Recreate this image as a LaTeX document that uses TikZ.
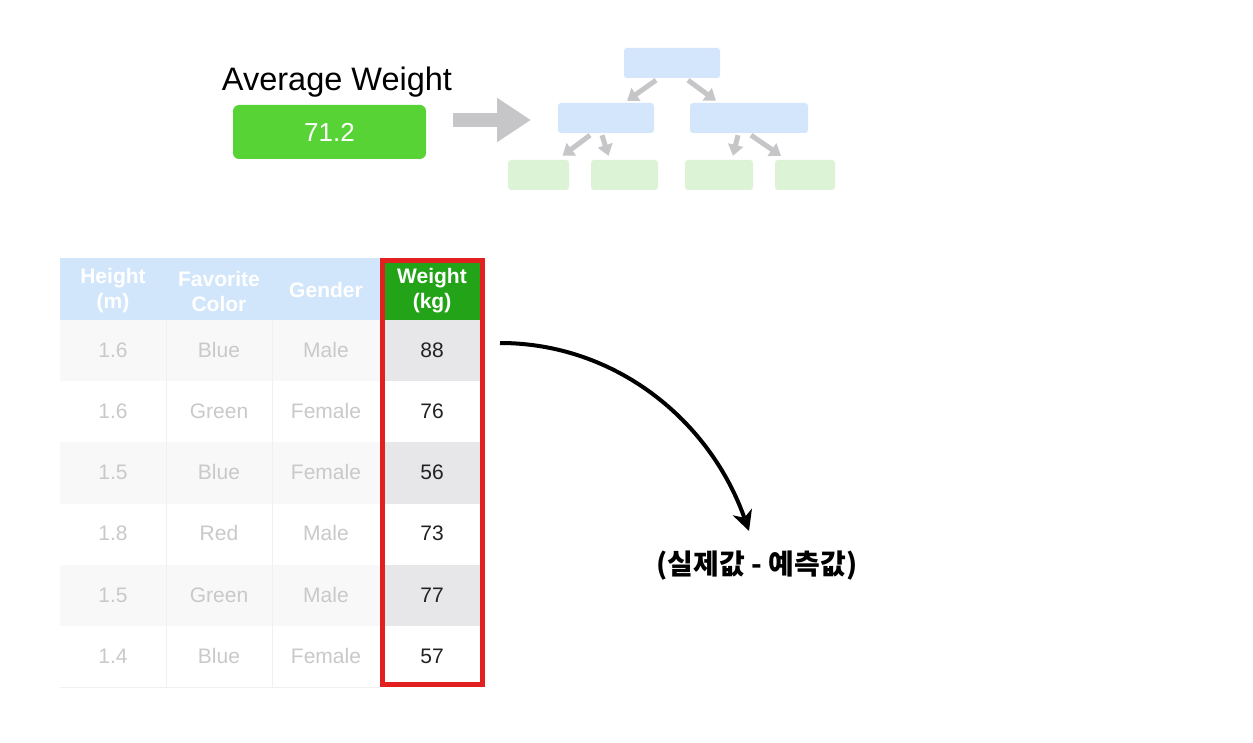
\documentclass[tikz,border=0pt]{standalone}
\usepackage{fontspec}
\setmainfont{Liberation Sans}
\newfontfamily\kofont{Noto Sans CJK KR}
\usetikzlibrary{arrows.meta,calc}
\definecolor{avggreen}{HTML}{57D336}
\definecolor{bluebox}{HTML}{D3E6FB}
\definecolor{greenbox}{HTML}{DDF3D6}
\definecolor{arrgray}{HTML}{C6C6C8}
\definecolor{hdrblue}{HTML}{D2E6FB}
\definecolor{hdrgreen}{HTML}{23A318}
\definecolor{rowgray}{HTML}{F8F8F8}
\definecolor{wtgray}{HTML}{E7E6E9}
\definecolor{faint}{HTML}{C9C9C9}
\definecolor{gridc}{HTML}{F0F0F0}
\definecolor{redbox}{HTML}{E32020}
\definecolor{darktxt}{HTML}{222222}
\tikzset{
  bluenode/.style={fill=bluebox, rounded corners=3pt, minimum height=30pt, inner sep=0pt},
  greennode/.style={fill=greenbox, rounded corners=3pt, minimum height=30pt, inner sep=0pt},
  treearrow/.style={draw=arrgray, line width=5pt, -{Triangle[length=11pt,width=15pt]}},
  cellfaint/.style={text=faint, font=\fontsize{21}{24}\selectfont},
  cellwt/.style={text=darktxt, font=\fontsize{21}{24}\selectfont},
  hdr/.style={text=white, font=\bfseries\fontsize{21}{25}\selectfont, align=center},
  curvearrow/.style={draw=black, line width=4pt, -{Stealth[length=20pt,width=20pt,inset=6pt]}}
}
\begin{document}
\begin{tikzpicture}[x=1pt,y=-1pt]
\useasboundingbox (0,0) rectangle (1253,743);
\fill[white] (0,0) rectangle (1253,743);
% Average weight
\node[font=\fontsize{32.5}{36}\selectfont] (avgt) at (337,82) {Average Weight};
\node[fill=avggreen, rounded corners=6pt, minimum width=193pt, minimum height=54pt, inner sep=0pt,
      text=white, font=\fontsize{26}{28}\selectfont] (avg) at (329.5,132) {71.2};
% big arrow
\coordinate (ba1) at (453,120);
\coordinate (ba2) at (531,120);
\draw[draw=arrgray, line width=14pt, -{Triangle[length=34pt,width=42pt]}] (ba1) -- (ba2);
% tree
\node[bluenode, minimum width=96pt] (top) at (672,63) {};
\node[bluenode, minimum width=96pt] (ml) at (606,118) {};
\node[bluenode, minimum width=118pt] (mr) at (749,118) {};
\node[greennode, minimum width=61pt] (b1) at (538.5,175) {};
\node[greennode, minimum width=67pt] (b2) at (624.5,175) {};
\node[greennode, minimum width=68pt] (b3) at (719,175) {};
\node[greennode, minimum width=60pt] (b4) at (805,175) {};
\draw[treearrow] ($(top.south)+(-16,2)$) -- ($(ml.north)+(21,-2)$);
\draw[treearrow] ($(top.south)+(16,2)$) -- ($(mr.north)+(-33,-2)$);
\draw[treearrow] ($(ml.south)+(-16,2)$) -- ($(b1.north)+(24,-4)$);
\draw[treearrow] ($(ml.south)+(-4,2)$) -- ($(b2.north)+(-16,-4)$);
\draw[treearrow] ($(mr.south)+(-11,2)$) -- ($(b3.north)+(14,-4)$);
\draw[treearrow] ($(mr.south)+(2,2)$) -- ($(b4.north)+(-24,-4)$);
% table backgrounds
\fill[hdrblue] (60,258) rectangle (380,320);
\fill[hdrgreen] (380,258) rectangle (484,320);
\foreach \r in {0,2,4} {
  \fill[rowgray] (60,{320+\r*61.17}) rectangle (380,{320+(\r+1)*61.17});
  \fill[wtgray] (380,{320+\r*61.17}) rectangle (484,{320+(\r+1)*61.17});
}
\draw[gridc, line width=0.8pt] (166,320) -- (166,687);
\draw[gridc, line width=0.8pt] (272,320) -- (272,687);
\draw[gridc, line width=0.8pt] (60,687) -- (380,687);
% header
\node[hdr] (h1) at (113,291) {Height\\(m)};
\node[hdr] (h2) at (219,291) {Favorite\\Color};
\node[hdr] (h3) at (326,290) {Gender};
\node[hdr] (h4) at (432,291) {Weight\\(kg)};
% rows
\node[cellfaint] (r1a) at (113,350) {1.6};
\node[cellfaint] (r1b) at (219,350) {Blue};
\node[cellfaint] (r1c) at (326,350) {Male};
\node[cellwt]    (r1d) at (432,350) {88};
\node[cellfaint] (r2a) at (113,411) {1.6};
\node[cellfaint] (r2b) at (219,411) {Green};
\node[cellfaint] (r2c) at (326,411) {Female};
\node[cellwt]    (r2d) at (432,411) {76};
\node[cellfaint] (r3a) at (113,472) {1.5};
\node[cellfaint] (r3b) at (219,472) {Blue};
\node[cellfaint] (r3c) at (326,472) {Female};
\node[cellwt]    (r3d) at (432,472) {56};
\node[cellfaint] (r4a) at (113,533) {1.8};
\node[cellfaint] (r4b) at (219,533) {Red};
\node[cellfaint] (r4c) at (326,533) {Male};
\node[cellwt]    (r4d) at (432,533) {73};
\node[cellfaint] (r5a) at (113,595) {1.5};
\node[cellfaint] (r5b) at (219,595) {Green};
\node[cellfaint] (r5c) at (326,595) {Male};
\node[cellwt]    (r5d) at (432,595) {77};
\node[cellfaint] (r6a) at (113,656) {1.4};
\node[cellfaint] (r6b) at (219,656) {Blue};
\node[cellfaint] (r6c) at (326,656) {Female};
\node[cellwt]    (r6d) at (432,656) {57};
% red border
\draw[redbox, line width=5pt] (382,260.5) rectangle (482,684.5);
% curved arrow and label
\node[font=\kofont\bfseries\fontsize{28}{32}\selectfont] (kor) at (757,566) {(실제값 - 예측값)};
\coordinate (cs) at (500,343);
\coordinate (ce) at (749,531);
\draw[curvearrow] (cs) .. controls (615,343) and (710,420) .. (ce);
\end{tikzpicture}
\end{document}
